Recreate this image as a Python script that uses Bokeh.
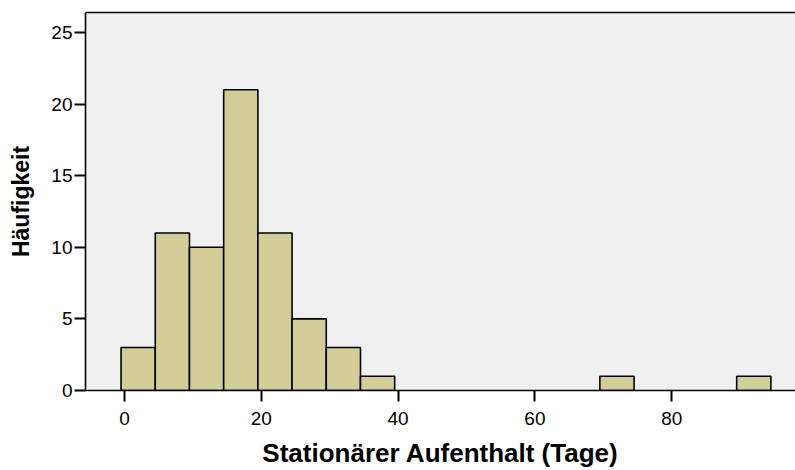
from bokeh.plotting import figure
from bokeh.models import LinearAxis, FixedTicker, Range1d
from bokeh.embed import file_html
from bokeh.resources import INLINE

# Data (histogram of stationary stay in days)
bin_starts = [-0.5, 4.5, 9.5, 14.5, 19.5, 24.5, 29.5, 34.5, 69.5, 89.5]
counts = [3, 11, 10, 21, 11, 5, 3, 1, 1, 1]
bin_width = 5
x_ticks = [0, 20, 40, 60, 80]
y_ticks = [0, 5, 10, 15, 20, 25]
x_title = "Stationärer Aufenthalt (Tage)"
y_title = "Häufigkeit"

FONT = "Liberation Sans"

p = figure(width=795, height=470, output_backend="svg", toolbar_location=None,
           x_range=Range1d(-5.7, 98.1), y_range=Range1d(0, 26.4),
           min_border_left=85, min_border_right=0, min_border_top=12, min_border_bottom=80)

p.background_fill_color = "#F0F0F0"
p.border_fill_color = "white"
p.outline_line_color = None
p.xgrid.visible = False
p.ygrid.visible = False

rights = [b + bin_width for b in bin_starts]
p.quad(left=bin_starts, right=rights, bottom=0, top=counts,
       fill_color="#D3CE98", line_color="black", line_width=1.6)

for ax in (p.xaxis[0], p.yaxis[0]):
    ax.axis_line_color = "black"
    ax.axis_line_width = 1.6
    ax.major_tick_line_color = "black"
    ax.major_tick_line_width = 2
    ax.major_tick_out = 11
    ax.major_tick_in = 0
    ax.minor_tick_line_color = None
    ax.major_label_text_font = FONT
    ax.major_label_text_font_size = "19px"
    ax.major_label_text_color = "black"
    ax.axis_label_text_font = FONT
    ax.axis_label_text_font_style = "bold"
    ax.axis_label_text_color = "black"

p.xaxis[0].axis_label_text_font_size = "26px"
p.yaxis[0].axis_label_text_font_size = "23px"
p.xaxis[0].ticker = FixedTicker(ticks=x_ticks)
p.yaxis[0].ticker = FixedTicker(ticks=y_ticks)
p.xaxis[0].axis_label = x_title
p.yaxis[0].axis_label = y_title
p.xaxis[0].major_label_standoff = 10
p.yaxis[0].major_label_standoff = 2
p.xaxis[0].axis_label_standoff = 10
p.yaxis[0].axis_label_standoff = 14

top_axis = LinearAxis(ticker=FixedTicker(ticks=[]), axis_line_color="black",
                      axis_line_width=1.6, major_tick_line_color=None,
                      minor_tick_line_color=None, major_label_text_font_size="0px")
p.add_layout(top_axis, "above")

open("out.html", "w").write(file_html(p, INLINE))
